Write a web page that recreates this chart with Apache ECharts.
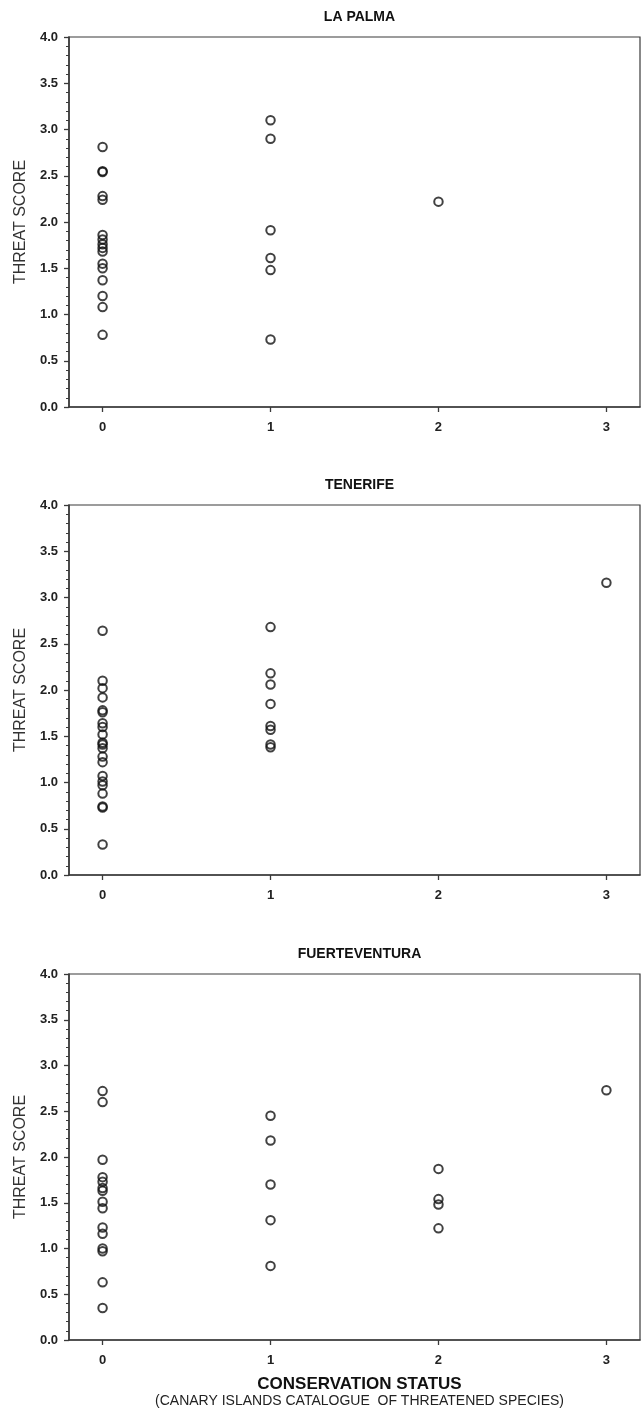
<!DOCTYPE html>
<html>
<head>
<meta charset="utf-8">
<script src="https://cdn.jsdelivr.net/npm/echarts@6/dist/echarts.min.js"></script>
<style>
  html, body { margin: 0; padding: 0; background: #fff; }
  #chart { width: 642px; height: 1410px; }
</style>
</head>
<body>
<div id="chart"></div>
<script>
// categories on the x axis (conservation status)
const xTicks = [0, 1, 2, 3];
const panelTitles = ['LA PALMA', 'TENERIFE', 'FUERTEVENTURA'];

// threat scores, per island and status
const laPalma0 = [2.81, 2.55, 2.54, 2.28, 2.24, 1.86, 1.81, 1.76, 1.72, 1.68, 1.55, 1.50, 1.37, 1.20, 1.08, 0.78];
const laPalma1 = [3.10, 2.90, 1.91, 1.61, 1.48, 0.73];
const laPalma2 = [2.22];
const laPalma3 = [];

const tenerife0 = [2.64, 2.10, 2.02, 1.92, 1.78, 1.76, 1.64, 1.60, 1.52, 1.43, 1.41, 1.37, 1.28, 1.22, 1.07, 1.01, 0.97, 0.88, 0.74, 0.73, 0.33];
const tenerife1 = [2.68, 2.18, 2.06, 1.85, 1.61, 1.57, 1.41, 1.38];
const tenerife2 = [];
const tenerife3 = [3.16];

const fuerte0 = [2.72, 2.60, 1.97, 1.78, 1.73, 1.66, 1.63, 1.51, 1.44, 1.23, 1.16, 1.00, 0.97, 0.63, 0.35];
const fuerte1 = [2.45, 2.18, 1.70, 1.31, 0.81];
const fuerte2 = [1.87, 1.54, 1.48, 1.22];
const fuerte3 = [2.73];

const islands = [
    [laPalma0, laPalma1, laPalma2, laPalma3],
    [tenerife0, tenerife1, tenerife2, tenerife3],
    [fuerte0, fuerte1, fuerte2, fuerte3]
];

const FONT = '"Liberation Sans", Arial, sans-serif';
const gridTops = [37, 505, 974];
const gridHeights = [370, 370, 366];
const plotLeft = 69;
const plotRight = 2;
const plotCenter = plotLeft + (642 - plotLeft - plotRight) / 2;

const chart = echarts.init(document.getElementById('chart'), null, { renderer: 'canvas' });

const grids = [], xAxes = [], yAxes = [], series = [], titles = [];

islands.forEach((groups, i) => {
    grids.push({
        left: plotLeft, right: plotRight, top: gridTops[i], height: gridHeights[i],
        show: true, borderColor: '#3a3a3a', borderWidth: 1.2, backgroundColor: '#fff'
    });
    xAxes.push({
        gridIndex: i, type: 'value', min: -0.2, max: 3.2,
        axisLine: { show: true, onZero: false, lineStyle: { color: '#3a3a3a', width: 1.6 } },
        axisTick: { show: true, inside: false, length: 5, customValues: xTicks, lineStyle: { color: '#3a3a3a', width: 1.3 } },
        axisLabel: { customValues: xTicks, margin: 14, fontFamily: FONT, fontSize: 13, fontWeight: 'bold', color: '#222' },
        splitLine: { show: false }
    });
    yAxes.push({
        gridIndex: i, type: 'value', min: 0, max: 4, interval: 0.5,
        name: 'THREAT SCORE', nameLocation: 'middle', nameGap: 36,
        nameTextStyle: { fontFamily: FONT, fontSize: 16, color: '#333' },
        axisLine: { show: true, onZero: false, lineStyle: { color: '#3a3a3a', width: 1.6 } },
        axisTick: { show: true, length: 5, lineStyle: { color: '#3a3a3a', width: 1.3 } },
        minorTick: { show: true, splitNumber: 5, length: 3, lineStyle: { color: '#3a3a3a', width: 1 } },
        axisLabel: { margin: 11, fontFamily: FONT, fontSize: 13, fontWeight: 'bold', color: '#222',
            formatter: v => v.toFixed(1) },
        splitLine: { show: false }
    });
    titles.push({
        text: panelTitles[i], left: plotCenter, textAlign: 'center', top: gridTops[i] - 32,
        textStyle: { fontFamily: FONT, fontSize: 14, fontWeight: 'bold', color: '#111' }
    });
    groups.forEach((vals, status) => {
        if (!vals.length) return;
        series.push({
            type: 'scatter', xAxisIndex: i, yAxisIndex: i,
            data: vals.map(v => [xTicks[status], v]),
            symbol: 'circle', symbolSize: 8.5,
            itemStyle: { color: 'rgba(255,255,255,0)', borderColor: '#111', borderWidth: 2 },
            emphasis: { disabled: true },
            silent: true
        });
    });
});

titles.push({
    text: 'CONSERVATION STATUS',
    subtext: '(CANARY ISLANDS CATALOGUE  OF THREATENED SPECIES)',
    left: plotCenter, textAlign: 'center', top: 1369, itemGap: 0,
    textStyle: { fontFamily: FONT, fontSize: 17, fontWeight: 'bold', color: '#111', lineHeight: 20 },
    subtextStyle: { fontFamily: FONT, fontSize: 14, color: '#222', lineHeight: 15 }
});

chart.setOption({
    animation: false,
    backgroundColor: '#fff',
    title: titles,
    grid: grids,
    xAxis: xAxes,
    yAxis: yAxes,
    series: series
});
</script>
</body>
</html>
